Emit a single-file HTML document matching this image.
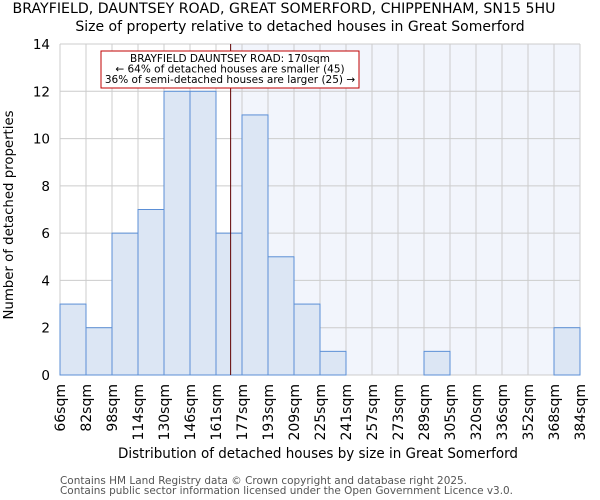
<!DOCTYPE html>
<html><head><meta charset="utf-8"><style>
body{margin:0;background:#fff}
svg{display:block;font-family:"DejaVu Sans","Liberation Sans",sans-serif}
</style></head><body>
<svg id="chart" width="600" height="500" xmlns="http://www.w3.org/2000/svg">
<text x="284" y="13" text-anchor="middle" font-size="14" textLength="543" lengthAdjust="spacingAndGlyphs">BRAYFIELD, DAUNTSEY ROAD, GREAT SOMERFORD, CHIPPENHAM, SN15 5HU</text>
<text x="300" y="31" text-anchor="middle" font-size="14">Size of property relative to detached houses in Great Somerford</text>
<g id="plot"></g>
<text transform="translate(13,215) rotate(-90)" text-anchor="middle" font-size="13.3">Number of detached properties</text>
<text x="318" y="458" text-anchor="middle" font-size="14" textLength="400" lengthAdjust="spacingAndGlyphs">Distribution of detached houses by size in Great Somerford</text>
<text x="60" y="484" font-size="11" fill="#555" textLength="407" lengthAdjust="spacingAndGlyphs">Contains HM Land Registry data © Crown copyright and database right 2025.</text>
<text x="60" y="494" font-size="11" fill="#555" textLength="453" lengthAdjust="spacingAndGlyphs">Contains public sector information licensed under the Open Government Licence v3.0.</text>
</svg>
<script>
const binLabels=["66sqm","82sqm","98sqm","114sqm","130sqm","146sqm","161sqm","177sqm","193sqm","209sqm","225sqm","241sqm","257sqm","273sqm","289sqm","305sqm","320sqm","336sqm","352sqm","368sqm","384sqm"];
const binEdges=[66,82,98,114,130,146,161,177,193,209,225,241,257,273,289,305,320,336,352,368,384];
const counts=[3,2,6,7,12,12,6,11,5,3,1,0,0,0,1,0,0,0,0,2];
const yTicks=[0,2,4,6,8,10,12,14];
const propertySize=170;
const NS="http://www.w3.org/2000/svg";
const X0=60,X1=580,Y0=375,Y1=44,YMAX=14;
const bw=(X1-X0)/counts.length;
const xIdx=i=>X0+i*bw;
const xVal=v=>{for(let i=0;i<binEdges.length-1;i++){if(v<=binEdges[i+1])return xIdx(i)+(v-binEdges[i])/(binEdges[i+1]-binEdges[i])*bw;}return X1;};
const y=v=>Y0-(v/YMAX)*(Y0-Y1);
const g=document.getElementById('plot');
function mk(t,a){const e=document.createElementNS(NS,t);for(const k in a)e.setAttribute(k,a[k]);g.appendChild(e);return e;}
const lx=xVal(propertySize);
let e=mk('rect',{x:lx,y:Y1,width:X1-lx,height:Y0-Y1,fill:'#f2f5fc'});


for(let i=0;i<binLabels.length;i++){e=mk('line',{x1:xIdx(i),x2:xIdx(i),y1:Y1,y2:Y0,stroke:'#cccccc','stroke-width':1});

}
yTicks.forEach(t=>{e=mk('line',{x1:X0,x2:X1,y1:y(t),y2:y(t),stroke:'#cccccc','stroke-width':1});


e=mk('text',{x:X0-10,y:y(t)+5,'text-anchor':'end','font-size':'13.5'});e.textContent=t;

});
counts.forEach((c,i)=>{if(c>0){e=mk('rect',{x:xIdx(i),y:y(c),width:bw,height:Y0-y(c),fill:'#dce6f4',stroke:'#5b8fd6','stroke-width':1});

}});
binLabels.forEach((l,i)=>{e=mk('text',{transform:`translate(${xIdx(i)+5},384) rotate(-90)`,'text-anchor':'end','font-size':'14'});e.textContent=l;

});
e=mk('line',{x1:lx,x2:lx,y1:Y1,y2:Y0,stroke:'#600000','stroke-width':1});


e=mk('rect',{x:101,y:51,width:258,height:37,fill:'#fff',stroke:'#c00000','stroke-width':1});


["BRAYFIELD DAUNTSEY ROAD: 170sqm","← 64% of detached houses are smaller (45)","36% of semi-detached houses are larger (25) →"].forEach((t,i)=>{e=mk('text',{x:230,y:62+i*10.5,'text-anchor':'middle','font-size':'10.5'});e.textContent=t;

});
</script>
</body></html>
